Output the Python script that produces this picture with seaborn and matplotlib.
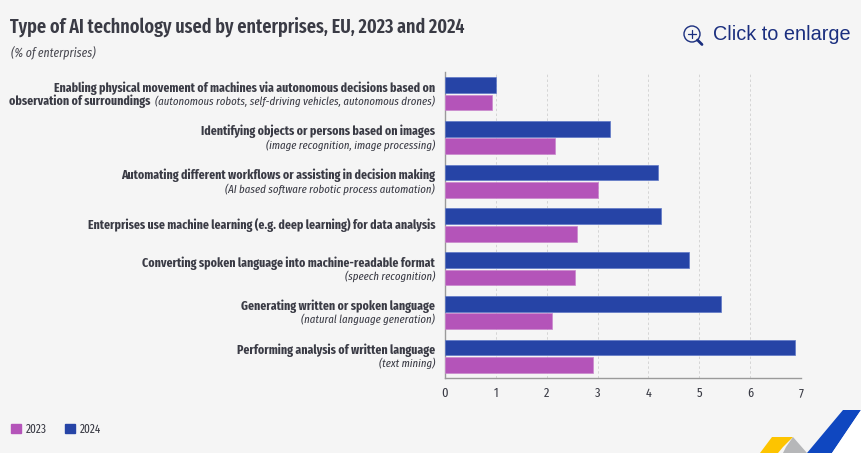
import matplotlib
matplotlib.use("Agg")
import matplotlib.pyplot as plt
from matplotlib.patches import Polygon, Circle
from matplotlib.lines import Line2D
from matplotlib.transforms import ScaledTranslation
import pandas as pd
import seaborn as sns

CATEGORIES = [
    "Enabling physical movement of machines via autonomous decisions based on",
    "Identifying objects or persons based on images",
    "Automating different workflows or assisting in decision making",
    "Enterprises use machine learning (e.g. deep learning) for data analysis",
    "Converting spoken language into machine-readable format",
    "Generating written or spoken language",
    "Performing analysis of written language",
]
SUBLABELS = [
    "(autonomous robots, self-driving vehicles, autonomous drones)",
    "(image recognition, image processing)",
    "(AI based software robotic process automation)",
    "",
    "(speech recognition)",
    "(natural language generation)",
    "(text mining)",
]
FIRST_EXTRA = "observation of surroundings"
VALUES_2024 = [1.01, 3.24, 4.19, 4.24, 4.79, 5.42, 6.88]
VALUES_2023 = [0.92, 2.17, 3.00, 2.60, 2.56, 2.10, 2.91]
YEARS = ["2024", "2023"]
TICKS = [0, 1, 2, 3, 4, 5, 6, 7]

W, H = 861, 453
BG = "#f5f5f5"
BLUE = "#2644a6"
PINK = "#b454b9"
TXT = "#3a3b45"
FONT = ["Fira Sans Extra Condensed", "Fira Sans Condensed", "Liberation Sans Narrow", "DejaVu Sans"]

sns.set_theme(style="white")
plt.rcParams["font.family"] = FONT

df = pd.DataFrame({
    "cat": CATEGORIES * 2,
    "year": [YEARS[0]] * 7 + [YEARS[1]] * 7,
    "val": VALUES_2024 + VALUES_2023,
})

fig = plt.figure(figsize=(W / 100, H / 100), dpi=100, facecolor=BG)
ax = fig.add_axes([445 / W, 1 - 378 / H, 356 / W, 306 / H], facecolor=BG)
sns.barplot(data=df, y="cat", x="val", hue="year", hue_order=YEARS, order=CATEGORIES,
            palette={"2024": BLUE, "2023": PINK}, width=0.8, gap=0.1, saturation=1,
            orient="h", ax=ax, zorder=3, legend=False)
for cont, ec in zip(ax.containers, ["#5f78c6", "#c988cd"]):
    for b in cont:
        b.set_edgecolor(ec)
        b.set_linewidth(0.5)

ax.set_xlim(0, 7)
ax.set_ylim(6.5, -0.5)
ax.set_xlabel("")
ax.set_ylabel("")
ax.set_xticks(TICKS)
ax.set_xticklabels([str(t) for t in TICKS], fontsize=9.6, color=TXT)
ax.set_yticks([])
shift = ScaledTranslation(-2.5 / 100, 0, fig.dpi_scale_trans)
for lab in ax.get_xticklabels():
    lab.set_transform(lab.get_transform() + shift)
ax.tick_params(axis="x", length=0, pad=6.5)
ax.grid(axis="x", color="#d4d4d4", linestyle=(0, (2.5, 2.5)), linewidth=0.7, zorder=0)
ax.set_axisbelow(True)
for s in ["top", "right"]:
    ax.spines[s].set_visible(False)
for s in ["left", "bottom"]:
    ax.spines[s].set_color("#9a9a9a")
    ax.spines[s].set_linewidth(1.0)

# category labels, right aligned 10 px left of the axis
off = -10 * 0.72
trans = ("axes fraction", "data")
LBL = 9.25
SUB = 8.45
for i, (c, s) in enumerate(zip(CATEGORIES, SUBLABELS)):
    if s:
        ax.annotate(c, xy=(0, i), xycoords=trans, xytext=(off, 4.2), textcoords="offset points",
                    ha="right", va="center", fontsize=LBL, fontweight="bold", color=TXT)
        sub = ax.annotate(s, xy=(0, i), xycoords=trans, xytext=(off, -5.4), textcoords="offset points",
                          ha="right", va="center", fontsize=SUB, fontstyle="italic", color=TXT)
        if i == 0:
            fig.canvas.draw()
            w = sub.get_window_extent().width
            ax.annotate(FIRST_EXTRA, xy=(0, i), xycoords=trans,
                        xytext=(off - (w + 5) * 0.72, -5.4), textcoords="offset points",
                        ha="right", va="center", fontsize=LBL, fontweight="bold", color=TXT)
    else:
        ax.annotate(c, xy=(0, i), xycoords=trans, xytext=(off, 0), textcoords="offset points",
                    ha="right", va="center", fontsize=LBL, fontweight="bold", color=TXT)

# titles
fig.text(10 / W, 1 - 27 / H, "Type of AI technology used by enterprises, EU, 2023 and 2024",
         fontsize=14.1, fontweight="semibold", color=TXT, ha="left", va="center")
fig.text(11 / W, 1 - 52 / H, "(% of enterprises)", fontsize=9.2, fontstyle="italic",
         color="#4a4a52", ha="left", va="center")

# legend
fig.legend(handles=[plt.Rectangle((0, 0), 1, 1, color=PINK), plt.Rectangle((0, 0), 1, 1, color=BLUE)],
           labels=["2023", "2024"], loc="center left", bbox_to_anchor=(11 / W, 1 - 429 / H),
           frameon=False, ncol=2, fontsize=8.8, borderpad=0, borderaxespad=0, handlelength=0.8,
           handleheight=0.8, handletextpad=0.4, columnspacing=1.5, labelcolor=TXT)

# "Click to enlarge" link
LINK = "#1b2f7f"
fig.text(713 / W, 1 - 34.5 / H, "Click to enlarge", fontsize=14.3, color=LINK, ha="left", va="center",
         family=["Liberation Sans", "DejaVu Sans"])
icon_ax = fig.add_axes([0, 0, 1, 1], facecolor="none")
icon_ax.set_xlim(0, W)
icon_ax.set_ylim(H, 0)
icon_ax.axis("off")
icon_ax.add_patch(Circle((692, 34), 8, fill=False, ec=LINK, lw=1.0))
icon_ax.add_line(Line2D([688, 696], [34, 34], color=LINK, lw=0.9))
icon_ax.add_line(Line2D([692, 692], [30, 38], color=LINK, lw=0.9))
icon_ax.add_line(Line2D([697.5, 702], [40, 44.5], color=LINK, lw=2.0))

# corner logo
icon_ax.add_patch(Polygon([(772, 437), (793, 437), (783, 447), (778, 453), (760, 453)], fc="#fdc400", ec="none"))
icon_ax.add_patch(Polygon([(793, 437), (807, 453), (783, 453), (786, 447)], fc="#b6b7b9", ec="none"))
icon_ax.add_patch(Polygon([(843, 410), (861, 410), (832, 453), (807, 453)], fc="#0f47c0", ec="none"))
icon_ax.add_patch(Polygon([(861, 410), (861, 453), (832, 453)], fc="white", ec="none"))

fig.savefig("out.png", dpi=100, facecolor=BG)
